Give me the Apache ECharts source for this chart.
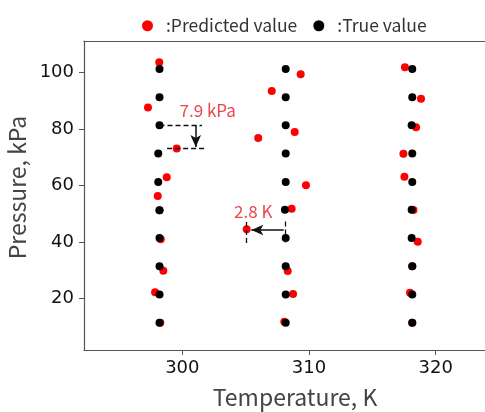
<!DOCTYPE html>
<html>
<head>
<meta charset="utf-8">
<script src="https://cdn.jsdelivr.net/npm/echarts@6/dist/echarts.min.js"></script>
<style>
  html, body { margin: 0; padding: 0; background: #fff; }
  #main { width: 485px; height: 412px; }
</style>
</head>
<body>
<div id="main"></div>
<script>
// 真値 (black) と予測値 (red)、[温度 K, 圧力 kPa]
var trueValue = [
  [298.2, 101.3], [298.2, 91.3], [298.2, 81.3], [298.1, 71.3], [298.1, 61.2],
  [298.2, 51.2], [298.2, 41.4], [298.2, 31.4], [298.2, 21.3], [298.2, 11.3],
  [308.16, 101.3], [308.16, 91.3], [308.16, 81.3], [308.16, 71.3], [308.16, 61.2],
  [308.1, 51.4], [308.16, 41.4], [308.16, 31.4], [308.16, 21.3], [308.16, 11.3],
  [318.15, 101.3], [318.15, 91.3], [318.1, 81.3], [318.15, 71.3], [318.15, 61.2],
  [318.1, 51.4], [318.1, 41.4], [318.15, 31.4], [318.15, 21.3], [318.15, 11.3]
]
var predictedValue = [
  [298.18, 103.7], [297.29, 87.6], [299.56, 73.1], [298.77, 62.9], [298.06, 56.3],
  [298.2, 51.2], [298.3, 40.9], [298.5, 29.8], [297.85, 22.1], [298.26, 11.3],
  [309.34, 99.4], [307.06, 93.5], [308.87, 78.9], [305.99, 76.8], [309.76, 60.1],
  [308.63, 51.7], [305.08, 44.5], [308.32, 29.7], [308.74, 21.5], [308.05, 11.7],
  [317.57, 101.9], [318.84, 90.7], [318.45, 80.6], [317.45, 71.2], [317.53, 63.1],
  [318.24, 51.3], [318.58, 40.0], [318.15, 31.4], [317.97, 22.0], [318.15, 11.3]
]
var xTicks = [300, 310, 320]
var yTicks = [20, 40, 60, 80, 100]

// 注釈 (データ座標)
var dashPressure = [
  [[298.2, 81.3], [301.55, 81.3]],
  [[298.8, 73.3], [301.8, 73.3]]
]
var arrowPressure = [[301.06, 81.3], [301.06, 73.6]]
var dashTemp = [
  [[308.1, 47.2], [308.1, 38.9]],
  [[305.08, 47.0], [305.08, 38.9]]
]
var arrowTemp = [[308.0, 44.2], [305.45, 44.2]]
var labelPressure = { text: '7.9 kPa', pos: [302.0, 86.5] }
var labelTemp = { text: '2.8 K', pos: [305.6, 50.9] }

var annoColor = '#e8474c'
var jpFont = '"Noto Sans CJK JP", "Noto Sans", sans-serif'
var numFont = '"DejaVu Sans", sans-serif'
var xMin = 292.24
var xMax = 324.6

var myChart = echarts.init(document.getElementById('main'))

function pairs (list) {
  return list.map(function (p) { return [{ coord: p[0] }, { coord: p[1] }] })
}

myChart.setOption({
  animation: false,
  legend: {
    top: 12,
    left: 137,
    itemWidth: 11,
    itemHeight: 11,
    itemGap: 16,
    formatter: ':{name}',
    textStyle: { fontSize: 17.5, color: '#333', fontFamily: jpFont, padding: [0, 0, 0, 8] },
    data: [
      { name: 'Predicted value', icon: 'circle' },
      { name: 'True value', icon: 'circle' }
    ]
  },
  grid: {
    left: 84,
    top: 41,
    width: 410,
    height: 309,
    show: false,
    outerBoundsMode: 'none',
    containLabel: false
  },
  xAxis: [
    {
      type: 'value',
      min: xMin,
      max: xMax,
      name: 'Temperature, K',
      nameLocation: 'middle',
      nameGap: 36,
      nameTextStyle: { fontSize: 23, color: '#444', fontFamily: jpFont, padding: [0, 0, 0, 12] },
      splitLine: { show: false },
      axisLine: { show: true, lineStyle: { color: '#555', width: 1.2 } },
      axisTick: { show: true, length: 5, customValues: xTicks, lineStyle: { color: '#555' } },
      axisLabel: { customValues: xTicks, fontSize: 18, color: '#111', margin: 9, fontFamily: numFont }
    },
    {
      // 上枠線
      type: 'value',
      position: 'top',
      min: xMin,
      max: xMax,
      splitLine: { show: false },
      axisLine: { show: true, lineStyle: { color: '#555', width: 1.2 } },
      axisTick: { show: false },
      axisLabel: { show: false }
    }
  ],
  yAxis: {
    type: 'value',
    min: 1.67,
    max: 111.2,
    name: 'Pressure, kPa',
    nameLocation: 'middle',
    nameGap: 51,
    nameTextStyle: { fontSize: 23, color: '#444', fontFamily: jpFont, padding: [0, 0, 0, 16] },
    splitLine: { show: false },
    axisLine: { show: true, lineStyle: { color: '#555', width: 1.2 } },
    axisTick: { show: true, length: 5, customValues: yTicks, lineStyle: { color: '#555' } },
    axisLabel: { customValues: yTicks, fontSize: 18, color: '#111', margin: 10, fontFamily: numFont }
  },
  series: [
    {
      name: 'Predicted value',
      type: 'scatter',
      symbolSize: 8,
      itemStyle: { color: '#ff0000', opacity: 1 },
      data: predictedValue,
      z: 2
    },
    {
      name: 'True value',
      type: 'scatter',
      symbolSize: 8,
      itemStyle: { color: '#000000', opacity: 1 },
      data: trueValue,
      z: 3
    },
    {
      // 注釈用
      type: 'scatter',
      data: [],
      silent: true,
      z: 4,
      markLine: {
        silent: true,
        animation: false,
        symbol: ['none', 'none'],
        label: { show: false },
        lineStyle: { color: '#111', type: [5, 3], width: 1.3 },
        data: pairs(dashPressure).concat(pairs(dashTemp))
      },
      markPoint: {
        silent: true,
        symbol: 'circle',
        symbolSize: 0,
        data: [
          { coord: labelPressure.pos, value: labelPressure.text },
          { coord: labelTemp.pos, value: labelTemp.text }
        ],
        label: {
          show: true,
          position: 'inside',
          formatter: '{c}',
          color: annoColor,
          fontSize: 17,
          fontFamily: jpFont
        }
      }
    },
    {
      type: 'scatter',
      data: [],
      silent: true,
      z: 5,
      markLine: {
        silent: true,
        animation: false,
        symbol: ['none', 'arrow'],
        symbolSize: [8, 12],
        label: { show: false },
        lineStyle: { color: '#111', type: 'solid', width: 1.5 },
        data: pairs([arrowPressure, arrowTemp])
      }
    }
  ]
})
</script>
</body>
</html>
